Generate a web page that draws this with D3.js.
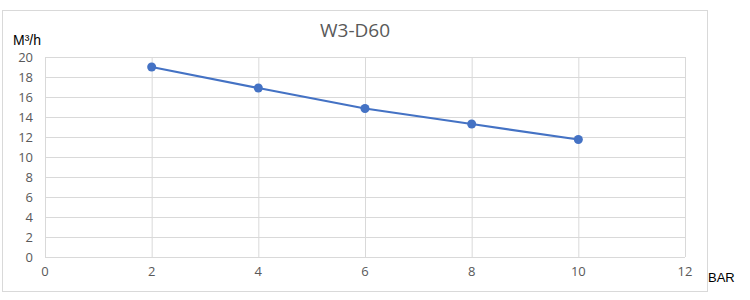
<!DOCTYPE html>
<html><head><meta charset="utf-8">
<script src="https://cdn.jsdelivr.net/npm/d3@7"></script>
<style>body{margin:0;background:#fff;}svg{display:block;}</style>
</head><body>
<svg id="c" width="750" height="300"></svg>
<script>
const pressure = [2, 4, 6, 8, 10];
const flow = [19, 16.9, 14.85, 13.3, 11.75];
const xTicks = [0, 2, 4, 6, 8, 10, 12];
const yTicks = [0, 2, 4, 6, 8, 10, 12, 14, 16, 18, 20];
const title = "W3-D60";
const yLabel = "M³/h";
const xLabel = "BAR";

const svg = d3.select("#c");
svg.append("rect").attr("x", 2.5).attr("y", 10.5).attr("width", 705).attr("height", 281)
  .attr("fill", "#fff").attr("stroke", "#d9d9d9");

const x = d3.scaleLinear().domain([0, 12]).range([45, 685]);
const y = d3.scaleLinear().domain([0, 20]).range([257, 57]);

const g = svg.append("g");
g.selectAll("line.h").data(yTicks).join("line")
  .attr("x1", x(0)).attr("x2", x(12)).attr("y1", d => y(d) + 0.5).attr("y2", d => y(d) + 0.5)
  .attr("stroke", "#d9d9d9").attr("stroke-width", 1);
g.selectAll("line.v").data(xTicks).join("line")
  .attr("y1", y(0)).attr("y2", y(20)).attr("x1", d => x(d) + 0.5).attr("x2", d => x(d) + 0.5)
  .attr("stroke", "#d9d9d9").attr("stroke-width", 1);

const font = "'Open Sans', 'DejaVu Sans', sans-serif";
g.selectAll("text.yt").data(yTicks).join("text")
  .attr("x", 33).attr("y", d => y(d)).attr("dy", "0.35em").attr("text-anchor", "end")
  .attr("font-family", font).attr("font-size", 13).attr("fill", "#595959").text(d => d);
g.selectAll("text.xt").data(xTicks).join("text")
  .attr("x", d => x(d)).attr("y", 276).attr("text-anchor", "middle")
  .attr("font-family", font).attr("font-size", 13).attr("fill", "#595959").text(d => d);

const pts = pressure.map((p, i) => [p, flow[i]]);
g.append("path").datum(pts)
  .attr("d", d3.line().x(d => x(d[0])).y(d => y(d[1])))
  .attr("fill", "none").attr("stroke", "#4472C4").attr("stroke-width", 2.25);
g.selectAll("circle").data(pts).join("circle")
  .attr("cx", d => x(d[0])).attr("cy", d => y(d[1])).attr("r", 4.5)
  .attr("fill", "#4472C4");

svg.append("text").attr("x", 355).attr("y", 37).attr("text-anchor", "middle")
  .attr("font-family", font).attr("font-size", 19).attr("fill", "#595959").text(title);
svg.append("text").attr("x", 13).attr("y", 45)
  .attr("font-family", "'Liberation Sans', Arial, sans-serif").attr("font-size", 14).attr("fill", "#000").text(yLabel);
svg.append("text").attr("x", 708).attr("y", 282)
  .attr("font-family", "'Liberation Sans Narrow', 'Liberation Sans', sans-serif").attr("font-size", 13)
  .attr("fill", "#000").text(xLabel);
</script>
</body></html>
